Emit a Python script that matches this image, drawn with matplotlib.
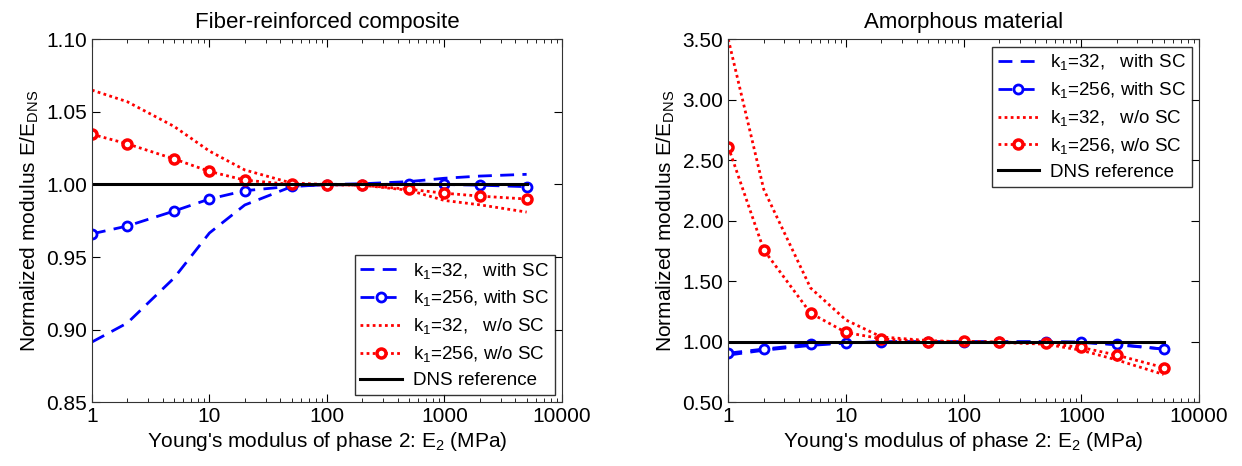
import numpy as np
import matplotlib
matplotlib.use("Agg")
import matplotlib.pyplot as plt
from matplotlib.ticker import FixedLocator, FormatStrFormatter, LogLocator, NullFormatter

plt.rcParams['font.family'] = ['Liberation Sans', 'DejaVu Sans']
plt.rcParams['mathtext.fontset'] = 'custom'
plt.rcParams['mathtext.rm'] = 'Liberation Sans'
plt.rcParams['mathtext.it'] = 'Liberation Sans'
plt.rcParams['mathtext.default'] = 'rm'

# E2 values (MPa)
e2 = [1, 2, 5, 10, 20, 50, 100, 200, 500, 1000, 2000, 5000]

# Fiber-reinforced composite
fiber_k32_sc = [0.8915, 0.9046, 0.9356, 0.9666, 0.9859, 0.9985, 1.0000, 1.0005, 1.0020, 1.0043, 1.0058, 1.0070]
fiber_k256_sc = [0.9660, 0.9714, 0.9817, 0.9900, 0.9957, 0.9988, 0.9998, 0.9998, 1.0004, 1.0000, 0.9995, 0.9985]
fiber_k32_nosc = [1.0650, 1.0570, 1.0400, 1.0230, 1.0100, 1.0010, 1.0000, 0.9995, 0.9960, 0.9890, 0.9860, 0.9810]
fiber_k256_nosc = [1.0346, 1.0280, 1.0176, 1.0090, 1.0030, 1.0000, 0.9997, 0.9995, 0.9967, 0.9940, 0.9920, 0.9900]

# Amorphous material
amor_k32_sc = [0.89, 0.93, 0.97, 0.99, 1.00, 1.00, 1.00, 1.00, 1.00, 0.995, 0.975, 0.94]
amor_k256_sc = [0.906, 0.940, 0.980, 0.990, 1.000, 1.000, 1.000, 1.000, 1.000, 0.998, 0.980, 0.940]
amor_k32_nosc = [3.50, 2.26, 1.445, 1.18, 1.04, 1.01, 1.00, 0.995, 0.98, 0.93, 0.85, 0.73]
amor_k256_nosc = [2.61, 1.76, 1.237, 1.077, 1.025, 1.00, 1.005, 0.998, 0.99, 0.953, 0.89, 0.787]

dns_x = [1, 5000]
dns_y = [1.0, 1.0]

labels = ["k$_1$=32,   with SC", "k$_1$=256, with SC", "k$_1$=32,   w/o SC",
          "k$_1$=256, w/o SC", "DNS reference"]

fig = plt.figure(figsize=(12.42, 4.66), dpi=100)
ax1 = fig.add_axes([0.074, 0.1367, 0.3785, 0.779])
ax2 = fig.add_axes([0.5864, 0.1367, 0.379, 0.779])


def draw(ax, d32sc, d256sc, d32no, d256no):
    ax.plot(e2, d32sc, color='blue', ls=(0, (5, 3)), lw=2, label=labels[0])
    ax.plot(e2, d256sc, color='blue', ls=(0, (5, 3)), lw=2, marker='o', ms=6.5,
            mfc='white', mec='blue', mew=2, label=labels[1])
    ax.plot(e2, d32no, color='red', ls=(0, (1, 1.2)), lw=2, label=labels[2])
    ax.plot(e2, d256no, color='red', ls=(0, (1, 1.2)), lw=2, marker='o', ms=6.5,
            mfc='white', mec='red', mew=2.5, label=labels[3])
    ax.plot(dns_x, dns_y, color='black', lw=2.2, label=labels[4])
    ax.set_xscale('log')
    ax.set_xlim(1, 10000)
    ax.xaxis.set_major_locator(FixedLocator([1, 10, 100, 1000, 10000]))
    ax.xaxis.set_major_formatter(FormatStrFormatter('%d'))
    ax.xaxis.set_minor_locator(LogLocator(base=10, subs=np.arange(2, 10)))
    ax.xaxis.set_minor_formatter(NullFormatter())
    ax.yaxis.set_major_formatter(FormatStrFormatter('%.2f'))
    ax.tick_params(which='both', direction='in', top=True, right=True, labelsize=15)
    ax.tick_params(which='major', length=6)
    ax.tick_params(which='minor', length=3)
    ax.set_xlabel("Young's modulus of phase 2: E$_2$ (MPa)", fontsize=15, labelpad=3)
    ax.set_ylabel("Normalized modulus E/E$_{\\rm DNS}$", fontsize=15, labelpad=4)
    for s in ax.spines.values():
        s.set_color('#333333')


legend_kw = dict(fontsize=13.5, fancybox=False, edgecolor='black', handlelength=2.2,
                 borderaxespad=0.4, labelspacing=0.42, borderpad=0.3, handletextpad=0.6)

draw(ax1, fiber_k32_sc, fiber_k256_sc, fiber_k32_nosc, fiber_k256_nosc)
ax1.set_ylim(0.85, 1.10)
ax1.set_yticks([0.85, 0.90, 0.95, 1.00, 1.05, 1.10])
ax1.set_title("Fiber-reinforced composite", fontsize=16, pad=8)
leg1 = ax1.legend(loc='lower right', **legend_kw)
leg1.get_frame().set_linewidth(1.0)

draw(ax2, amor_k32_sc, amor_k256_sc, amor_k32_nosc, amor_k256_nosc)
ax2.set_ylim(0.5, 3.5)
ax2.set_yticks([0.5, 1.0, 1.5, 2.0, 2.5, 3.0, 3.5])
ax2.set_title("Amorphous material", fontsize=16, pad=8)
leg2 = ax2.legend(loc='upper right', **legend_kw)
leg2.get_frame().set_linewidth(1.0)

plt.savefig("out.png", dpi=100)
